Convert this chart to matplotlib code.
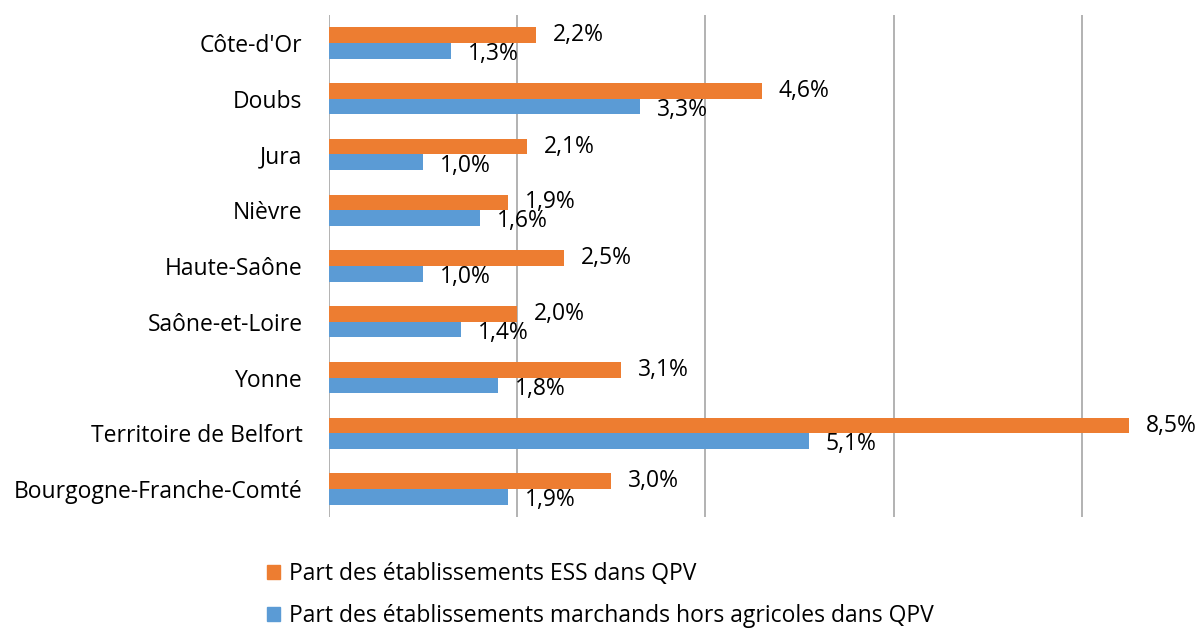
import matplotlib
matplotlib.use("Agg")
import matplotlib.pyplot as plt
import numpy as np
from matplotlib.patches import Patch

plt.rcParams['font.family'] = ['Open Sans', 'DejaVu Sans']

categories = ["Côte-d'Or", "Doubs", "Jura", "Nièvre", "Haute-Saône",
              "Saône-et-Loire", "Yonne", "Territoire de Belfort",
              "Bourgogne-Franche-Comté"]
ess = [2.2, 4.6, 2.1, 1.9, 2.5, 2.0, 3.1, 8.5, 3.0]
marchands = [1.3, 3.3, 1.0, 1.6, 1.0, 1.4, 1.8, 5.1, 1.9]
label_ess = "Part des établissements ESS dans QPV"
label_march = "Part des établissements marchands hors agricoles dans QPV"

c_orange = "#ED7D31"
c_blue = "#5B9BD5"

fig = plt.figure(figsize=(11.99, 6.28), dpi=100)
ax = fig.add_axes([329/1199, 1-517/628, (1176-329)/1199, (517-15)/628])

n = len(categories)
y = np.arange(n)
h = 0.28
ax.barh(y - h/2, ess, height=h, color=c_orange)
ax.barh(y + h/2, marchands, height=h, color=c_blue)

fs = 16.5
for i in range(n):
    ax.text(ess[i] + 0.18, y[i] - h/2, f"{ess[i]:.1f}%".replace('.', ','),
            va='center', ha='left', fontsize=fs, color='black')
    ax.text(marchands[i] + 0.18, y[i] + h/2 + 0.06, f"{marchands[i]:.1f}%".replace('.', ','),
            va='center', ha='left', fontsize=fs, color='black')

ax.set_ylim(n - 0.5, -0.5)
ax.set_xlim(0, 9)
ax.set_yticks(y)
ax.set_yticklabels(categories, fontsize=fs)
ax.set_xticks([0, 2, 4, 6, 8])
ax.tick_params(axis='x', length=0, labelbottom=False)
ax.tick_params(axis='y', length=0, pad=19)
ax.grid(axis='x', color='#A6A6A6', linewidth=1.2)
ax.set_axisbelow(True)
for s in ax.spines.values():
    s.set_visible(False)

handles = [Patch(color=c_orange, label=label_ess), Patch(color=c_blue, label=label_march)]
fig.legend(handles=handles, loc='upper left', bbox_to_anchor=(258/1199, 1-553/628),
           frameon=False, fontsize=fs, handlelength=0.55, handleheight=0.55,
           handletextpad=0.4, labelspacing=0.8, borderaxespad=0)

fig.savefig("out.png", dpi=100)
